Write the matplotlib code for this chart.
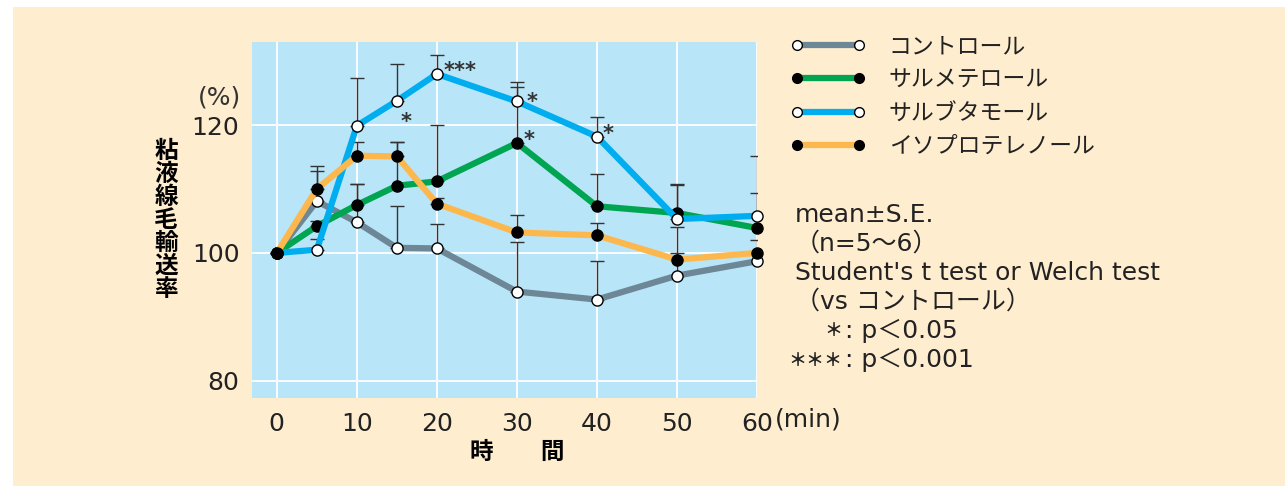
import matplotlib
matplotlib.use("Agg")
import matplotlib.pyplot as plt
from matplotlib.patches import Rectangle
from matplotlib.lines import Line2D

plt.rcParams['font.family'] = ['Noto Sans CJK JP', 'DejaVu Sans']
LATIN = ['DejaVu Sans', 'Noto Sans CJK JP']

# Time points (min)
time = [0, 5, 10, 15, 20, 30, 40, 50, 60]

# Mucociliary transport rate (%), mean and S.E.
control = [100, 108.1, 104.8, 100.8, 100.7, 93.95, 92.7, 96.45, 98.7]
control_se = [0, 5.5, 6.0, 6.5, 3.8, 7.8, 6.0, 3.55, 0]

salmeterol = [100, 104.2, 107.5, 110.5, 111.2, 117.2, 107.3, 106.25, 103.9]
salmeterol_se = [0, 0.8, 3.3, 6.8, 8.8, 8.8, 5.1, 4.55, 5.5]

salbutamol = [100, 100.5, 119.9, 123.8, 128.0, 123.7, 118.2, 105.3, 105.8]
salbutamol_se = [0, 1.7, 7.4, 5.7, 3.0, 3.0, 3.0, 5.4, 9.3]

isoproterenol = [100, 110.0, 115.2, 115.1, 107.7, 103.2, 102.75, 98.95, 100.0]
isoproterenol_se = [0, 2.8, 2.1, 2.2, 0.9, 2.8, 1.9, 5.05, 2.0]

labels = ['コントロール', 'サルメテロール', 'サルブタモール', 'イソプロテレノール']
x_ticks = [0, 10, 20, 30, 40, 50, 60]
y_ticks = [80, 100, 120]

# Significance marks: (time, series, text, dx, dy) -- text baseline offset
sig_marks = [
    (15, salbutamol, '*', 0.45, -4.2),
    (20, salbutamol, '***', 0.8, -0.4),
    (30, salbutamol, '*', 1.2, -1.0),
    (30, salmeterol, '*', 0.85, -0.4),
    (40, salbutamol, '*', 0.65, -0.5),
]

W, H = 1285, 486
fig = plt.figure(figsize=(W / 100, H / 100), dpi=100, facecolor='white')

cream = '#feedcf'
fig.patches.append(Rectangle((13 / W, 0), 1 - 13 / W, 1 - 7 / H,
                             transform=fig.transFigure, facecolor=cream,
                             edgecolor='none', zorder=-10))

ax_l, ax_r, ax_t, ax_b = 252, 757, 42, 398
ax = fig.add_axes([ax_l / W, 1 - ax_b / H, (ax_r - ax_l) / W, (ax_b - ax_t) / H])
ax.set_facecolor('#b9e5f8')
ax.set_xlim(-3.1, 60)
ax.set_ylim(77.3, 133.0)
for s in ax.spines.values():
    s.set_visible(False)
ax.set_xticks(x_ticks)
ax.set_yticks(y_ticks)
ax.grid(True, color='white', linewidth=1.3)
ax.set_axisbelow(True)
ax.tick_params(length=0, labelsize=18, colors='#222222', pad=9)
ax.tick_params(axis='x', pad=10)
for lbl in ax.get_xticklabels() + ax.get_yticklabels():
    lbl.set_family(LATIN)

series = [
    (control, control_se, '#6d8796', 'white'),
    (salmeterol, salmeterol_se, '#00a551', 'black'),
    (salbutamol, salbutamol_se, '#00aeef', 'white'),
    (isoproterenol, isoproterenol_se, '#fdb84d', 'black'),
]

for vals, se, col, mfc in series:
    ax.errorbar(time, vals, yerr=[[0] * len(se), se], fmt='none',
                ecolor='#333333', elinewidth=1.0, capsize=5, capthick=1.0,
                zorder=3)

handles = []
for (vals, se, col, mfc), lab in zip(series, labels):
    ax.plot(time, vals, color=col, linewidth=4.5, marker='o',
            markersize=8, markerfacecolor=mfc, markeredgecolor='black',
            markeredgewidth=1.0, zorder=4, clip_on=False, label=lab)
    handles.append(Line2D([], [], color=col, linewidth=4.5, marker='o',
                          markersize=7, markerfacecolor=mfc,
                          markeredgecolor='black', markeredgewidth=1.0))

for t, vals, txt, dx, dy in sig_marks:
    y = vals[time.index(t)]
    ax.text(t + dx, y + dy, txt, fontsize=15, fontweight='bold',
            color='#333333', ha='left', va='baseline', zorder=5,
            family=LATIN)

# Axis labels
fig.text(219 / W, 1 - 98 / H, '(%)', fontsize=18, color='#333333',
         ha='center', va='center', family=LATIN)
fig.text(166 / W, 1 - 220 / H, '\n'.join('粘液線毛輸送率'), fontsize=17,
         fontweight='bold', ha='center', va='center', linespacing=0.95)
fig.text(517 / W, 1 - 452 / H, '時　　間', fontsize=17, fontweight='bold',
         ha='center', va='center')
fig.text(775 / W, 1 - 419 / H, '(min)', fontsize=18, color='#222222',
         ha='left', va='center', family=LATIN)

leg = fig.legend(handles, labels, loc='upper left',
                 bbox_to_anchor=(790 / W, 1 - 35 / H), frameon=False,
                 fontsize=16.5, numpoints=2, handlelength=3.3,
                 handletextpad=1.0, labelspacing=0.45, borderaxespad=0,
                 borderpad=0)
for t in leg.get_texts():
    t.set_color('#222222')

# Notes block
notes = [
    'mean±S.E.',
    '（n=5〜6）',
    "Student's t test or Welch test",
    '（vs コントロール）',
]
for i, line in enumerate(notes):
    fig.text(795 / W, 1 - (215 + i * 29) / H, line, fontsize=18,
             color='#222222', ha='left', va='center', family=LATIN)

sig_legend = [('＊', ': p＜0.05'), ('＊＊＊', ': p＜0.001')]
for j, (star, desc) in enumerate(sig_legend):
    yy = 1 - (215 + (4 + j) * 29) / H
    fig.text(842 / W, yy, star, fontsize=13, fontweight='bold',
             color='#222222', ha='right', va='center')
    fig.text(845 / W, yy, desc, fontsize=18, color='#222222',
             ha='left', va='center', family=LATIN)

fig.savefig('out.png', dpi=100, facecolor='white')
